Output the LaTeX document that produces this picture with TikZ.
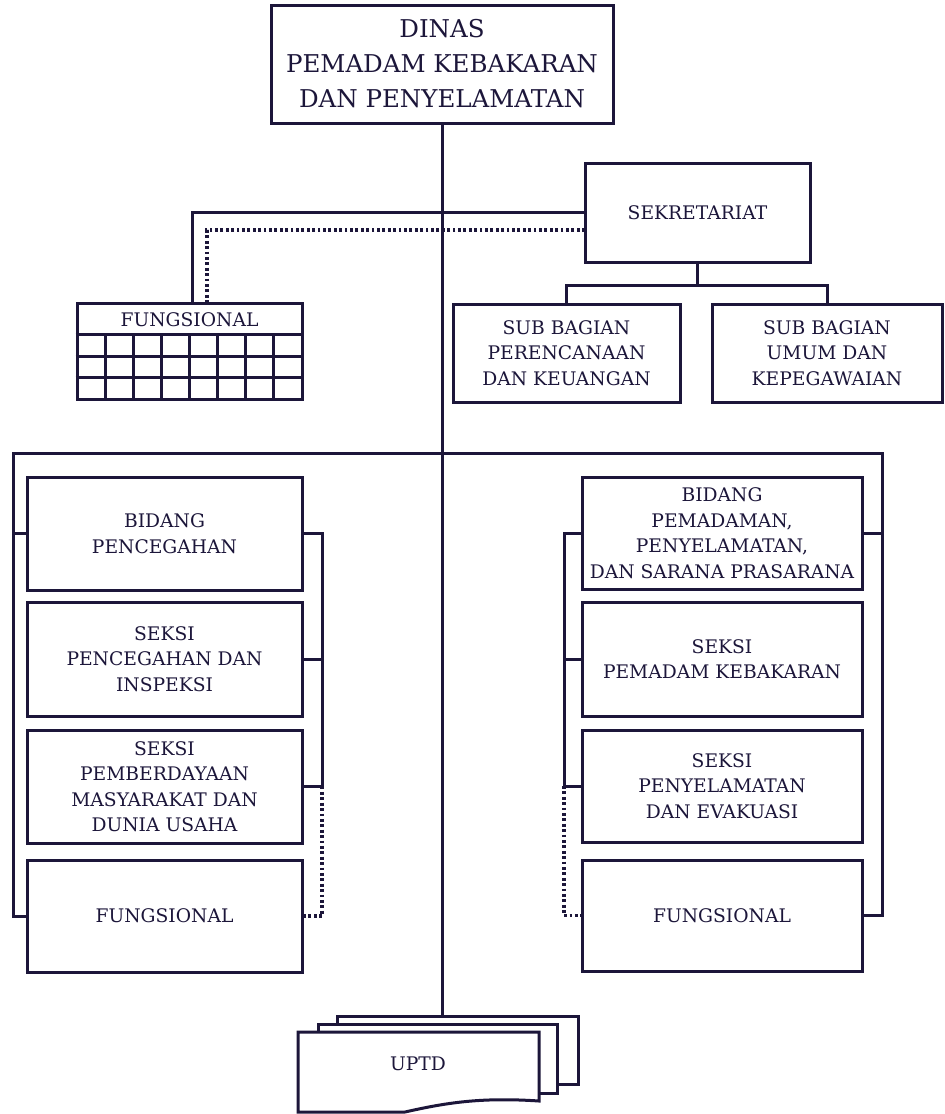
\documentclass[tikz,border=0pt]{standalone}
\usepackage{fontspec}
\setmainfont{DejaVu Serif}
\definecolor{ink}{RGB}{28,22,58}
\begin{document}
\begin{tikzpicture}[x=1pt,y=-1pt,
  ln/.style={draw=ink, line width=3pt},
  dotln/.style={draw=ink, line width=3.2pt, dash pattern=on 2.8pt off 2.6pt},
  box/.style={ln, rectangle, inner sep=0pt, align=center, fill=white, text=ink,
    font=\fontsize{18.7}{25.5}\selectfont},
  big/.style={box, font=\fontsize{24.5}{35}\selectfont},
  lbl/.style={inner sep=0pt, text=ink, font=\fontsize{18.7}{25.5}\selectfont}]
\useasboundingbox (0,0) rectangle (945,1114);

% top
\node[big, minimum width=342, minimum height=118] (dinas) at (442,64)
  {DINAS\\PEMADAM KEBAKARAN\\DAN PENYELAMATAN};
\node[box, minimum width=225, minimum height=99] (sek) at (697.5,212.5) {SEKRETARIAT};
\node[box, minimum width=227, minimum height=98] (sub1) at (566.5,353)
  {SUB BAGIAN\\PERENCANAAN\\DAN KEUANGAN};
\node[box, minimum width=230, minimum height=98] (sub2) at (827,353)
  {SUB BAGIAN\\UMUM DAN\\KEPEGAWAIAN};

% fungsional table
\node[box, minimum width=225, minimum height=96] (ft) at (189.5,351) {};
\node[lbl] (ftl) at (189.5,320) {FUNGSIONAL};
\draw[ln] (ft.west |- 0,334) -- (ft.east |- 0,334);
\draw[ln] (ft.west |- 0,356) -- (ft.east |- 0,356);
\draw[ln] (ft.west |- 0,377) -- (ft.east |- 0,377);
\foreach \i in {1,...,7}
  \draw[ln] ({77+\i*28.125},334) -- ({77+\i*28.125},399);

% left column
\node[box, minimum width=275, minimum height=113] (bidL) at (164.5,533.5)
  {BIDANG\\PENCEGAHAN};
\node[box, minimum width=275, minimum height=114] (insL) at (164.5,659)
  {SEKSI\\PENCEGAHAN DAN\\INSPEKSI};
\node[box, minimum width=275, minimum height=113] (pemL) at (164.5,786.5)
  {SEKSI\\PEMBERDAYAAN\\MASYARAKAT DAN\\DUNIA USAHA};
\node[box, minimum width=275, minimum height=112] (funL) at (164.5,916)
  {FUNGSIONAL};

% right column
\node[box, minimum width=280, minimum height=112] (bidR) at (722,533)
  {BIDANG\\PEMADAMAN,\\PENYELAMATAN,\\DAN SARANA PRASARANA};
\node[box, minimum width=280, minimum height=114] (pmdR) at (722,659)
  {SEKSI\\PEMADAM KEBAKARAN};
\node[box, minimum width=280, minimum height=112] (evaR) at (722,786)
  {SEKSI\\PENYELAMATAN\\DAN EVAKUASI};
\node[box, minimum width=280, minimum height=111] (funR) at (722,915.5)
  {FUNGSIONAL};

% coordinates
\coordinate (hL) at (13,453);
\coordinate (hR) at (882,453);
\coordinate (fs) at (192,303);
\coordinate (fd) at (207,303);
\coordinate (sd) at (585,230);
\coordinate (sb) at (697.5,285);
\coordinate (ut) at (442,1016);
\coordinate (iL) at (322,533.5);
\coordinate (iR) at (564,533);

% main line
\draw[ln] (dinas.south) -- (ut);

% sekretariat links
\draw[ln] (sek.west) -| (fs);
\draw[dotln] (sd) -| (fd);
\draw[ln] (sek.south) -- (sb);
\draw[ln] (sub1.north) |- (sb) -| (sub2.north);

% outer brackets
\draw[ln] (funL.west) -| (hL) -- (hR) |- (funR.east);
\draw[ln] (bidL.west) -- (bidL.west -| hL);
\draw[ln] (bidR.east) -- (bidR.east -| hR);

% inner brackets left
\draw[ln] (bidL.east) -- (iL) -- (iL |- pemL.east) -- (pemL.east);
\draw[ln] (insL.east) -- (insL.east -| iL);
\draw[dotln] (iL |- pemL.east) |- (funL.east);

% inner brackets right
\draw[ln] (bidR.west) -- (iR) -- (iR |- evaR.west) -- (evaR.west);
\draw[ln] (pmdR.west) -- (pmdR.west -| iR);
\draw[dotln] (iR |- evaR.west) |- (funR.west);

% UPTD
\draw[ln, fill=white] (337,1016) rectangle (578,1084);
\draw[ln, fill=white] (318,1024) rectangle (557,1093);
\draw[ln, fill=white] (298,1032) -- (539,1032) -- (539,1101)
  .. controls (480,1097) and (445,1103) .. (405,1112) -- (298,1112) -- cycle;
\node[lbl] (uptd) at (418,1064) {UPTD};
\end{tikzpicture}
\end{document}
